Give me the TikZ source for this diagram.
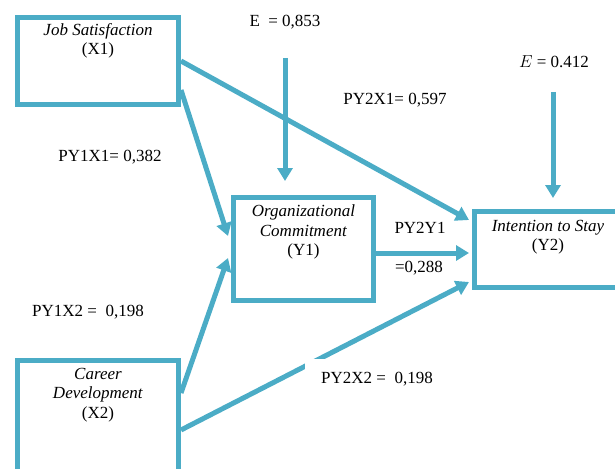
\documentclass[tikz,border=0pt]{standalone}
\usepackage{fontspec}
\setmainfont{Liberation Serif}
\usetikzlibrary{arrows.meta,positioning}
\definecolor{aqua}{HTML}{4BACC6}

\begin{document}
\begin{tikzpicture}[x=1pt,y=-1pt,
  every node/.style={font=\fontsize{17}{19.5}\selectfont},
  box/.style={draw=aqua,line width=5pt,inner sep=0pt},
  boxtext/.style={align=center,anchor=north,inner sep=0pt},
  link/.style={draw=aqua,line width=5pt,-{Triangle[width=15pt,length=13pt]}},
  coef/.style={inner sep=1pt}]
\useasboundingbox (0,0) rectangle (615,468);
\clip (0,0) rectangle (615,468);
% boxes
\node[box,minimum width=161pt,minimum height=87pt] (js) at (98,61) {};
\node[box,minimum width=140pt,minimum height=103pt] (oc) at (303.5,249) {};
\node[box,minimum width=147pt,minimum height=76pt] (is) at (548,249.5) {};
\node[box,minimum width=161pt,minimum height=115pt] (cd) at (98,418) {};
\node[boxtext] (jst) at ([yshift=-8pt]js.north) {\textit{Job Satisfaction}\\(X1)};
\node[boxtext] (oct) at ([yshift=-10pt]oc.north) {\textit{Organizational}\\\textit{Commitment}\\(Y1)};
\node[boxtext] (ist) at ([yshift=-11pt]is.north) {\textit{Intention to Stay}\\(Y2)};
\node[boxtext] (cdt) at ([yshift=-10pt]cd.north) {\textit{Career}\\\textit{Development}\\(X2)};
% paths
\draw[link] (js.east) -- ([xshift=-3pt,yshift=29.5pt]is.west);
\draw[link] ([yshift=-29pt]js.east) -- ([xshift=-3pt,yshift=13pt]oc.west);
\draw[link] ([yshift=25pt]cd.east) -- ([xshift=-3pt,yshift=-9pt]oc.west);
\draw[link] ([yshift=-12pt]cd.east) -- ([xshift=-3pt,yshift=-32.5pt]is.west);
\draw[link] ([yshift=-4pt]oc.east) -- ([xshift=-3pt,yshift=-3.5pt]is.west);
% error terms
\coordinate (e1top) at (285,58);
\coordinate (e1tip) at (285,181);
\coordinate (e2top) at (553,92);
\coordinate (e2tip) at (553,198);
\draw[link] (e1top) -- (e1tip);
\draw[link] (e2top) -- (e2tip);
% coefficients
\node[coef] (e1) at (285,22) {E\ \ = 0,853};
\node[coef] (e2) at (554,62) {$E$ = 0.412};
\node[coef] (py2x1) at (395,100) {PY2X1= 0,597};
\node[coef] (py1x1) at (110,157) {PY1X1= 0,382};
\node[coef] (py2y1a) at (420,228) {PY2Y1};
\node[coef] (py2y1b) at (419,268) {=0,288};
\node[coef] (py1x2) at (88,312) {PY1X2 = \ 0,198};
\node[coef,fill=white,inner xsep=16pt,inner ysep=13pt] (py2x2) at (377,379) {PY2X2 = \ 0,198};
\end{tikzpicture}
\end{document}
